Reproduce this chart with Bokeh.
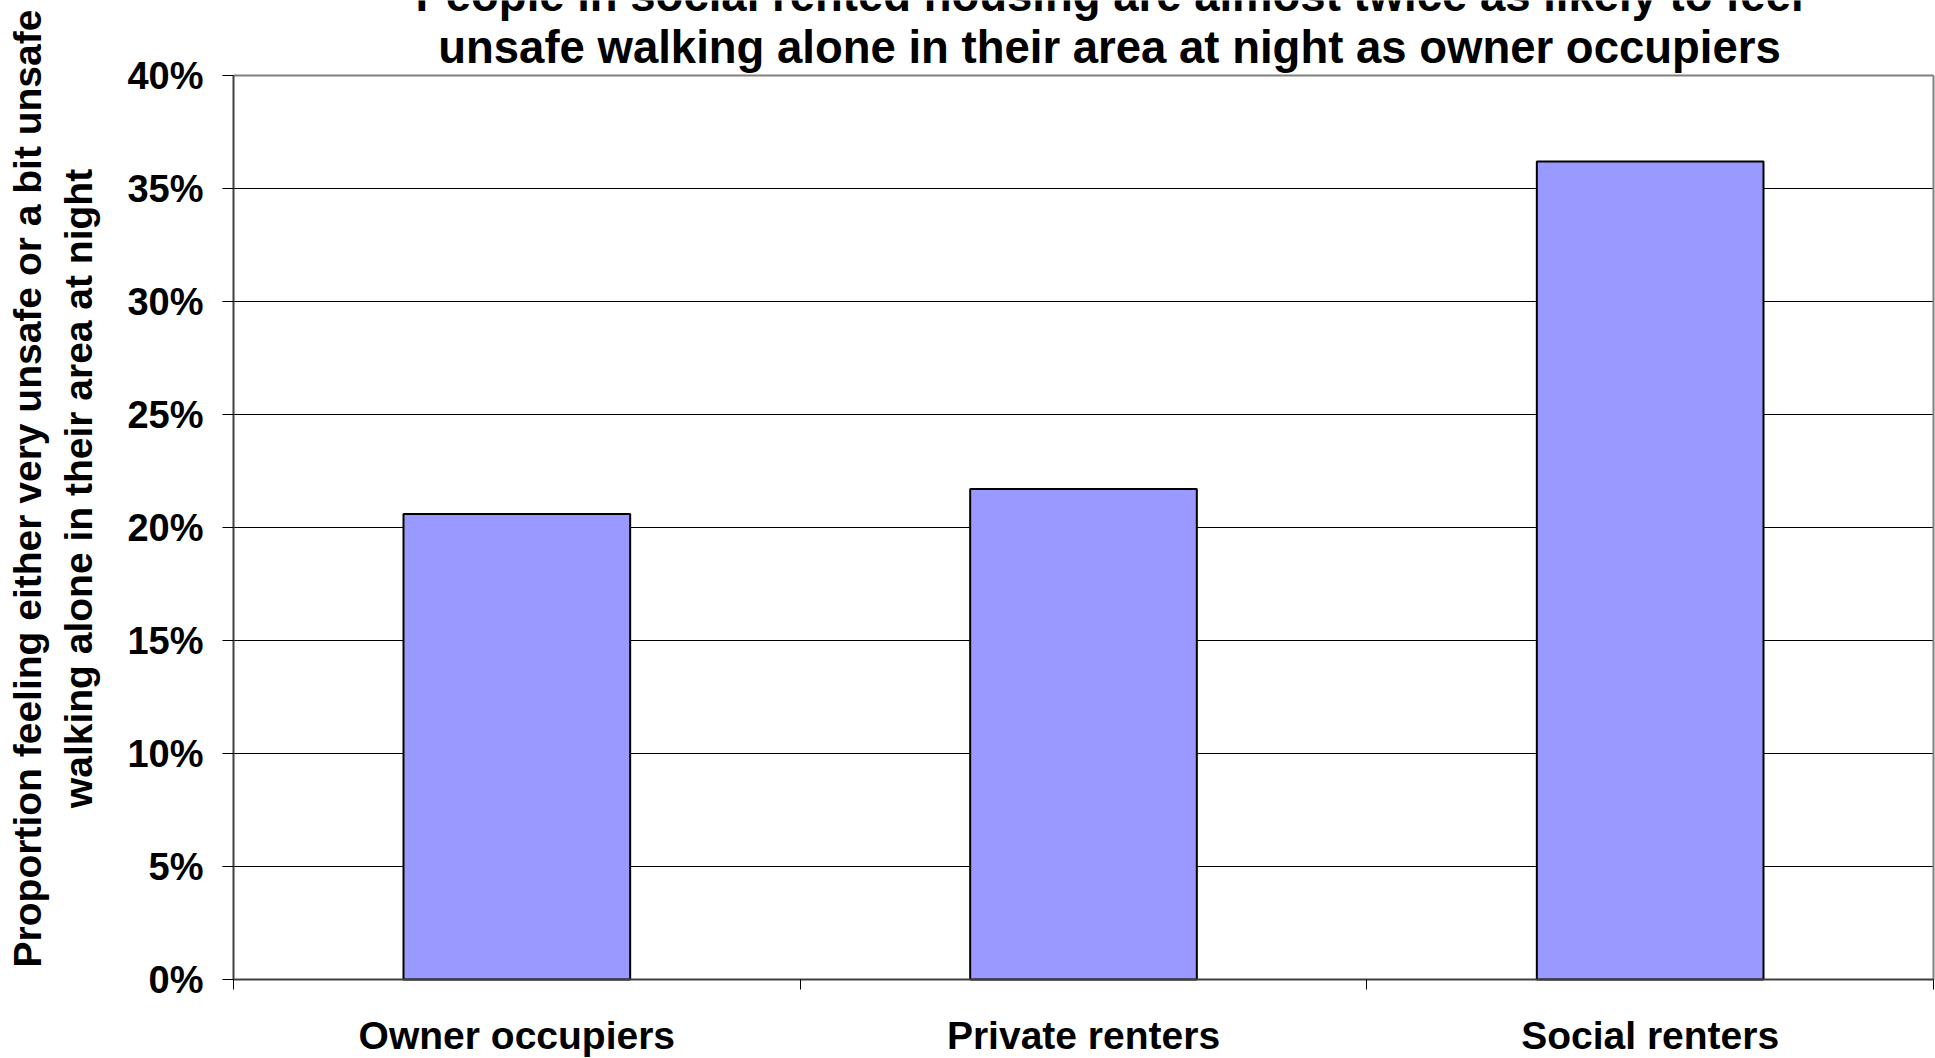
import math
from bokeh.plotting import figure
from bokeh.models import (Range1d, FixedTicker, NumeralTickFormatter, Label,
                          LabelSet, ColumnDataSource, LinearAxis)
from bokeh.core.properties import value
from bokeh.embed import file_html
from bokeh.resources import INLINE

# ---- data ----
categories = ["Owner occupiers", "Private renters", "Social renters"]
values = [0.206, 0.217, 0.362]
y_ticks = [0.0, 0.05, 0.10, 0.15, 0.20, 0.25, 0.30, 0.35, 0.40]
title_lines = ["People in social rented housing are almost twice as likely to feel",
               "unsafe walking alone in their area at night as owner occupiers"]
ylabel_lines = ["Proportion feeling either very unsafe or a bit unsafe",
                "walking alone in their area at night"]

# ---- layout (pixel geometry of the plot area) ----
W, H = 1935, 1058
X0_PX, Y0_PX = 233, 979          # pixel of x=0 / y=0
CAT_PX = 1700 / 3.0               # pixels per category
YMAX = 0.40
Y_PX = 904.0                      # pixels for YMAX
FONT = "Liberation Sans"
N = len(categories)


def xd(px):
    return (px - X0_PX) / CAT_PX


def yd(py):
    return YMAX * (Y0_PX - py) / Y_PX


x_pos = [i + 0.5 for i in range(N)]

p = figure(width=W, height=H, output_backend="svg", toolbar_location=None,
           x_range=Range1d(xd(0), xd(W)), y_range=Range1d(yd(H), yd(0)),
           x_axis_location=None, y_axis_location=None,
           min_border=0, background_fill_color="white",
           border_fill_color="white")
p.outline_line_color = None
p.grid.visible = False

# gridlines (behind bars)
grid_src = ColumnDataSource(dict(y=y_ticks[:-1]))
p.segment(x0=0, x1=N, y0="y", y1="y", source=grid_src,
          line_color="black", line_width=1)
# plot-area border (top and right), gray
p.segment(x0=[0, N], x1=[N, N], y0=[y_ticks[-1], 0], y1=[y_ticks[-1], y_ticks[-1]],
          line_color="#808080", line_width=2)

src = ColumnDataSource(dict(x=x_pos, top=values, name=categories,
                            ly=[yd(1048)] * N))
p.vbar(x="x", top="top", width=0.4, bottom=0, source=src,
       fill_color="#9999FF", line_color="black", line_width=2)

# y axis
yax = LinearAxis(fixed_location=0, bounds=(0, YMAX))
yax.ticker = FixedTicker(ticks=y_ticks)
yax.formatter = NumeralTickFormatter(format="0%")
yax.major_tick_out = 11
yax.major_tick_in = 0
yax.minor_tick_out = 0
yax.minor_tick_in = 0
yax.major_tick_line_color = "black"
yax.axis_line_color = "#404040"
yax.axis_line_width = 2
yax.major_label_standoff = 19
yax.major_label_text_font = FONT
yax.major_label_text_font_style = "bold"
yax.major_label_text_font_size = "38px"
yax.major_label_text_color = "black"
p.add_layout(yax, "left")

# x axis (category boundary ticks only)
xax = LinearAxis(fixed_location=0, bounds=(0, N))
xax.ticker = FixedTicker(ticks=[], minor_ticks=list(range(N + 1)))
xax.major_label_text_font_size = "0px"
xax.major_tick_out = 0
xax.major_tick_in = 0
xax.minor_tick_out = 10
xax.minor_tick_in = 0
xax.minor_tick_line_color = "black"
xax.axis_line_color = "#404040"
xax.axis_line_width = 2
p.add_layout(xax, "below")

# category labels
p.add_layout(LabelSet(x="x", y="ly", text="name", source=src,
                      text_align="center", text_baseline="alphabetic",
                      text_font=value(FONT), text_font_style="bold",
                      text_font_size="39px", text_color="black"))

# title
for line, by in zip(title_lines, [-5, 47]):
    p.add_layout(Label(x=xd(1109), y=yd(by), text=line, text_align="center",
                       text_baseline="alphabetic", text_font=FONT,
                       text_font_style="bold", text_font_size="45.5px",
                       text_color="black"))

# y axis title (two rotated lines)
for line, cx in zip(ylabel_lines, [27, 78]):
    p.add_layout(Label(x=xd(cx), y=yd(488), text=line, angle=math.pi / 2,
                       text_align="center", text_baseline="middle",
                       text_font=FONT, text_font_style="bold",
                       text_font_size="39px", text_color="black"))

open("out.html", "w").write(file_html(p, INLINE))
